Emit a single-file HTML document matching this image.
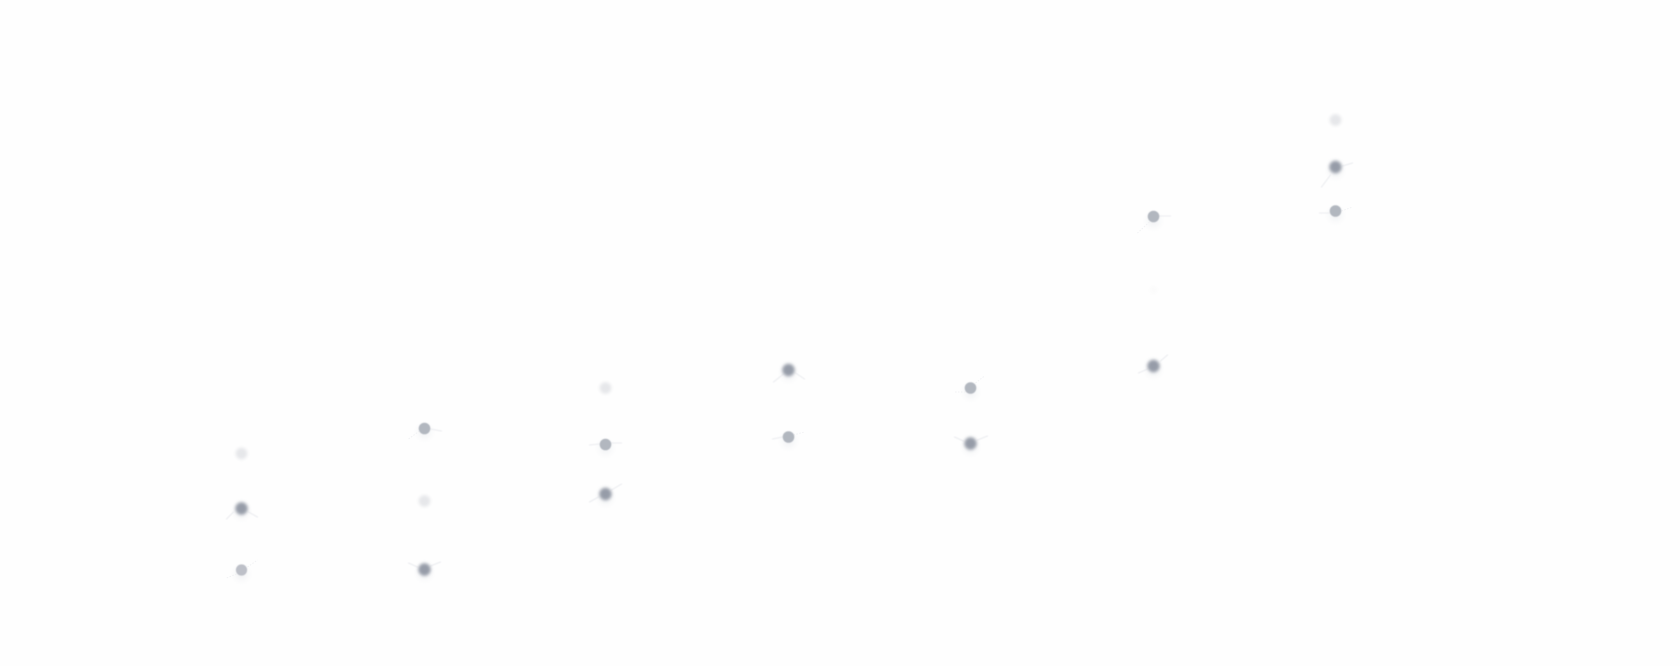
<!DOCTYPE html>
<html>
<head>
<meta charset="utf-8">
<style>
html,body{margin:0;padding:0;background:#fefefe;width:1680px;height:666px;overflow:hidden}
svg{display:block}
</style>
</head>
<body>
<svg width="1680" height="666" viewBox="0 0 1680 666" xmlns="http://www.w3.org/2000/svg">
<defs>
<filter id="b1" x="-100%" y="-100%" width="300%" height="300%"><feGaussianBlur stdDeviation="1.5"/></filter>
<filter id="b2" x="-100%" y="-100%" width="300%" height="300%"><feGaussianBlur stdDeviation="1.7"/></filter>
<filter id="b3" x="-100%" y="-100%" width="300%" height="300%"><feGaussianBlur stdDeviation="0.6"/></filter>
<filter id="s" x="-200%" y="-200%" width="500%" height="500%"><feGaussianBlur stdDeviation="3.5"/></filter>
<filter id="l" x="-50%" y="-50%" width="200%" height="200%"><feGaussianBlur stdDeviation="0.6"/></filter>
</defs>
<g transform="translate(0.5,0)">
<!-- soft shadows -->
<g fill="#f1f2f4" filter="url(#s)">
<circle cx="241" cy="512" r="6"/><circle cx="241" cy="574" r="6"/><circle cx="424" cy="432" r="6"/><circle cx="424" cy="573" r="6"/>
<circle cx="605" cy="448" r="6"/><circle cx="605" cy="498" r="6"/><circle cx="788" cy="374" r="6"/><circle cx="788" cy="441" r="6"/>
<circle cx="970" cy="392" r="6"/><circle cx="970" cy="447" r="6"/><circle cx="1153" cy="221" r="6"/><circle cx="1153" cy="370" r="6"/>
<circle cx="1335" cy="171" r="6"/><circle cx="1335" cy="215" r="6"/>
</g>

<!-- solid connector strokes -->
<g stroke="#eeeff2" stroke-width="1.3" fill="none" stroke-linecap="round" filter="url(#l)">
<line x1="233" y1="512" x2="226" y2="519"/><line x1="248" y1="512" x2="257" y2="517"/>
<line x1="430" y1="429" x2="441" y2="431"/>
<line x1="417" y1="567" x2="408" y2="563"/><line x1="430" y1="566" x2="440" y2="562"/>
<line x1="599" y1="444" x2="589" y2="445"/><line x1="610" y1="443" x2="621" y2="443"/>
<line x1="611" y1="490" x2="621" y2="484"/><line x1="598" y1="497" x2="589" y2="502"/>
<line x1="783" y1="374" x2="773" y2="382"/><line x1="795" y1="373" x2="804" y2="379"/>
<line x1="782" y1="437" x2="772" y2="439"/>
<line x1="963" y1="441" x2="954" y2="437"/><line x1="977" y1="440" x2="987" y2="436"/>
<line x1="1159" y1="216" x2="1170" y2="216"/>
<line x1="1160" y1="361" x2="1167" y2="355"/><line x1="1147" y1="369" x2="1138" y2="373"/>
<line x1="1342" y1="166" x2="1352" y2="163"/><line x1="1330" y1="175" x2="1321" y2="187"/>
<line x1="1319" y1="213" x2="1330" y2="213"/>
</g>

<!-- dashed connector strokes -->
<g stroke="#f1f2f4" stroke-width="1" fill="none" stroke-dasharray="1.5 1.5">
<line x1="236" y1="574" x2="226" y2="578"/><line x1="247" y1="567" x2="257" y2="560"/>
<line x1="419" y1="431" x2="408" y2="439"/>
<line x1="793" y1="435" x2="804" y2="432"/>
<line x1="965" y1="392" x2="954" y2="392"/><line x1="975" y1="383" x2="984" y2="376"/>
<line x1="1149" y1="222" x2="1137" y2="233"/>
<line x1="1341" y1="211" x2="1352" y2="207"/>
</g>

<!-- faint nodes -->
<g fill="#e6e7ea" filter="url(#b1)">
<circle cx="241" cy="453.5" r="5.8"/>
<circle cx="424" cy="501" r="5.8"/>
<circle cx="605" cy="388" r="5.8"/>
<circle cx="1335" cy="120" r="5.8"/>
</g>
<circle cx="1153" cy="290" r="4" fill="#fbfbfb" filter="url(#b2)"/>

<!-- dark nodes -->
<g fill="#969ca8" filter="url(#b2)">
<circle cx="241" cy="508.5" r="6.2"/>
<circle cx="424" cy="569.5" r="6.2"/>
<circle cx="605" cy="494" r="6.2"/>
<circle cx="788" cy="370" r="6.2"/>
<circle cx="970" cy="443.5" r="6.2"/>
<circle cx="1153" cy="366" r="6.2"/>
<circle cx="1335" cy="167" r="6.2"/>
</g>

<!-- medium nodes -->
<g fill="#b2b7bf" filter="url(#b3)">
<circle cx="241" cy="570" r="5.6" fill="#bdc0c8"/>
<circle cx="424" cy="428.5" r="5.8"/>
<circle cx="605" cy="444.5" r="5.8"/>
<circle cx="788" cy="437" r="5.8"/>
<circle cx="970" cy="388" r="5.8"/>
<circle cx="1153" cy="216.5" r="5.8"/>
<circle cx="1335" cy="211" r="5.8"/>
</g>
</g>
</svg>
</body>
</html>
